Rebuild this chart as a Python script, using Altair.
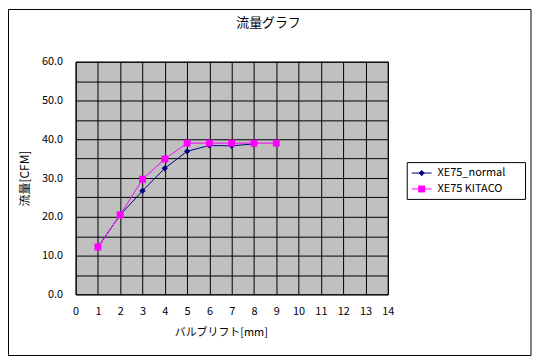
import altair as alt
import pandas as pd

# ---- data ----
series_names = ["XE75_normal", "XE75 KITACO"]
series_colors = ["#000080", "#FF00FF"]
series_shapes = ["diamond", "square"]

lift_normal = [1, 2, 3, 4, 5, 6, 7, 8]
flow_normal = [12.2, 20.5, 26.7, 32.5, 36.9, 38.4, 38.3, 38.8]

lift_kitaco = [1, 2, 3, 4, 5, 6, 7, 8, 9]
flow_kitaco = [12.2, 20.5, 29.7, 34.9, 39.0, 39.0, 39.0, 39.0, 39.0]

x_ticks = list(range(0, 15))
y_ticks = list(range(0, 61, 5))

chart_title = "流量グラフ"
x_title = "バルブリフト[mm]"
y_title = "流量[CFM]"

FONT = "Noto Sans CJK JP"

df = pd.DataFrame(
    {
        "series": [series_names[0]] * len(lift_normal) + [series_names[1]] * len(lift_kitaco),
        "lift": lift_normal + lift_kitaco,
        "flow": flow_normal + flow_kitaco,
    }
)
legend_df = pd.DataFrame({"series": series_names})

W, H = 314, 234

color_scale = alt.Scale(domain=series_names, range=series_colors)
color = alt.Color("series:N", scale=color_scale, legend=None)

x_enc = alt.X(
    "lift:Q",
    scale=alt.Scale(domain=[0, 14], nice=False, zero=True),
    axis=alt.Axis(
        values=x_ticks,
        title=x_title,
        grid=True,
        gridColor="black",
        gridOpacity=1,
        gridWidth=1,
        ticks=False,
        domain=False,
        labelAngle=0,
        labelFlush=False,
        labelFont=FONT,
        labelFontSize=11,
        labelColor="black",
        labelPadding=11,
        titleFont=FONT,
        titleFontSize=11,
        titleFontWeight="normal",
        titleColor="black",
        titleX=146,
        titleY=38,
        titleBaseline="middle",
    ),
)

y_enc = alt.Y(
    "flow:Q",
    scale=alt.Scale(domain=[0, 60], nice=False, zero=True),
    axis=alt.Axis(
        values=y_ticks,
        labelExpr="datum.value % 10 === 0 ? format(datum.value, '.1f') : ''",
        title=y_title,
        grid=True,
        gridColor="black",
        gridOpacity=1,
        gridWidth=1,
        ticks=False,
        domain=False,
        labelFlush=False,
        labelFont=FONT,
        labelFontSize=11,
        labelColor="black",
        labelPadding=13,
        titleFont=FONT,
        titleFontSize=12,
        titleFontWeight="normal",
        titleColor="black",
        titleX=-51,
        titleY=117,
        titleAngle=-90,
        titleBaseline="middle",
        titleAlign="center",
    ),
)

base = alt.Chart(df).encode(x=x_enc, y=y_enc, color=color)

line_n = base.transform_filter(alt.datum.series == series_names[0]).mark_line(strokeWidth=1)
pts_n = base.transform_filter(alt.datum.series == series_names[0]).mark_point(
    shape=series_shapes[0], filled=True, size=40, opacity=1
)
line_k = base.transform_filter(alt.datum.series == series_names[1]).mark_line(strokeWidth=1)
pts_k = base.transform_filter(alt.datum.series == series_names[1]).mark_point(
    shape=series_shapes[1], filled=True, size=49, opacity=1
)

title_df = pd.DataFrame({"t": [chart_title]})
title_layer = alt.Chart(title_df).mark_text(
    font=FONT, fontSize=13, color="black", align="center", baseline="middle"
).encode(text="t:N", x=alt.value(194), y=alt.value(-39))

border_layer = alt.Chart(title_df).mark_rect(
    fillOpacity=0, stroke="black", strokeWidth=1
).encode(x=alt.value(-67.5), x2=alt.value(458), y=alt.value(-52.5), y2=alt.value(295.5))

# ---- hand-built legend (box + line/marker + label per series) ----
legend_box = alt.Chart(title_df).mark_rect(
    fill="white", stroke="black", strokeWidth=1
).encode(x=alt.value(333.5), x2=alt.value(452.5), y=alt.value(101.5), y2=alt.value(138.5))

legend_layers = [legend_box]
row_y = [112, 128]
for i, name in enumerate(series_names):
    src = alt.Chart(legend_df).transform_filter(alt.datum.series == name)
    legend_layers.append(
        src.mark_rule(strokeWidth=1).encode(
            x=alt.value(338), x2=alt.value(358), y=alt.value(row_y[i]), color=color
        )
    )
    legend_layers.append(
        src.mark_point(shape=series_shapes[i], filled=True, size=40 if i == 0 else 49, opacity=1).encode(
            x=alt.value(348), y=alt.value(row_y[i]), color=color
        )
    )
    legend_layers.append(
        src.mark_text(font=FONT, fontSize=11, color="black", align="left", baseline="middle").encode(
            x=alt.value(364), y=alt.value(row_y[i]), text="series:N"
        )
    )

chart = (
    alt.layer(border_layer, line_n, pts_n, line_k, pts_k, title_layer, *legend_layers)
    .properties(
        width=W,
        height=H,
        padding={"left": 68, "top": 53, "right": 146, "bottom": 63},
        autosize=alt.AutoSizeParams(type="none"),
        background="white",
    )
    .configure_view(fill="#C0C0C0", stroke="black", strokeWidth=1)
)

chart.save("out.html", embed_options={"renderer": "svg", "actions": False})
